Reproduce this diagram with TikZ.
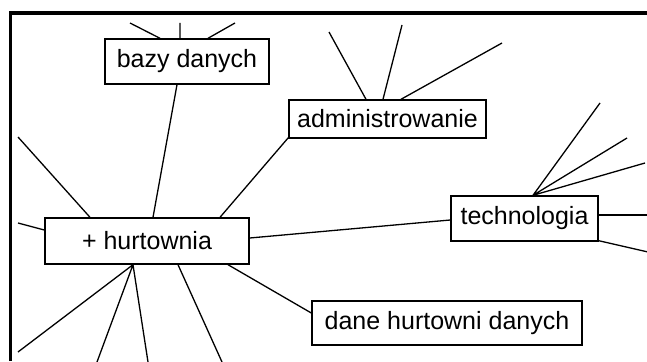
\documentclass[tikz,border=0pt]{standalone}
\usepackage{fontspec}
\setmainfont{Liberation Sans}
\begin{document}
\begin{tikzpicture}[x=1pt,y=-1pt,
  topic/.style={draw=black,line width=1.4pt,fill=white,rectangle,inner sep=0pt,
    font=\fontsize{25}{30}\selectfont},
  link/.style={draw=black,line width=1.3pt}]
\useasboundingbox (0,0) rectangle (647,361);
\fill[white] (0,0) rectangle (647,361);
% frame
\draw[line width=3.5pt] (10.5,361) -- (10.5,13) -- (647,13);
% nodes
\node[topic,minimum width=164pt,minimum height=45pt] (bazy) at (187,61.5) {bazy danych};
\node[topic,minimum width=197pt,minimum height=38pt] (admin) at (387.5,119) {administrowanie};
\node[topic,minimum width=204pt,minimum height=46pt] (hurt) at (147,241) {+ hurtownia};
\node[topic,minimum width=147pt,minimum height=45pt] (tech) at (524.5,218.5) {technologia};
\node[topic,minimum width=270pt,minimum height=44pt] (dane) at (447,323) {dane hurtowni danych};
% free ends
\coordinate (b1) at (130,23);
\coordinate (b2) at (180,23);
\coordinate (b3) at (235,23);
\coordinate (a1) at (329,32);
\coordinate (a2) at (402,25);
\coordinate (a3) at (502,43);
\coordinate (t1) at (600,103);
\coordinate (t2) at (627,138);
\coordinate (t3) at (645,163);
\coordinate (t4) at (648,215);
\coordinate (t5) at (648,252);
\coordinate (h1) at (18,137);
\coordinate (h2) at (18,223);
\coordinate (h3) at (18,352);
\coordinate (h4) at (97,362);
\coordinate (h5) at (148,362);
\coordinate (h6) at (222,362);
% connectors
\path[link] (b1) -- ([xshift=-27pt]bazy.north)
            (b2) -- ([xshift=-7pt]bazy.north)
            (b3) -- ([xshift=21pt]bazy.north);
\path[link] ([xshift=-10pt]bazy.south) -- ([xshift=6pt]hurt.north);
\path[link] (h1) -- ([xshift=-57pt]hurt.north);
\path[link] (h2) -- ([yshift=11pt]hurt.west);
\path[link] ([xshift=73pt]hurt.north) -- ([yshift=1pt]admin.south west);
\path[link] (a1) -- ([xshift=-21.5pt]admin.north)
            (a2) -- ([xshift=-4.5pt]admin.north)
            (a3) -- ([xshift=13.5pt]admin.north);
\path[link] ([yshift=3pt]hurt.east) -- ([yshift=-1.5pt]tech.west);
\path[link] ([xshift=8.5pt]tech.north) -- (t1)
            ([xshift=8.5pt]tech.north) -- (t2)
            ([xshift=8.5pt]tech.north) -- (t3);
\path[link] ([yshift=3.5pt]tech.east) -- (t4);
\path[link] ([yshift=1pt]tech.south east) -- (t5);
\path[link] ([xshift=81pt]hurt.south) -- ([yshift=10pt]dane.west);
\path[link] ([xshift=-14pt]hurt.south) -- (h3)
            ([xshift=-14pt]hurt.south) -- (h4)
            ([xshift=-14pt]hurt.south) -- (h5);
\path[link] ([xshift=31pt]hurt.south) -- (h6);
\end{tikzpicture}
\end{document}
